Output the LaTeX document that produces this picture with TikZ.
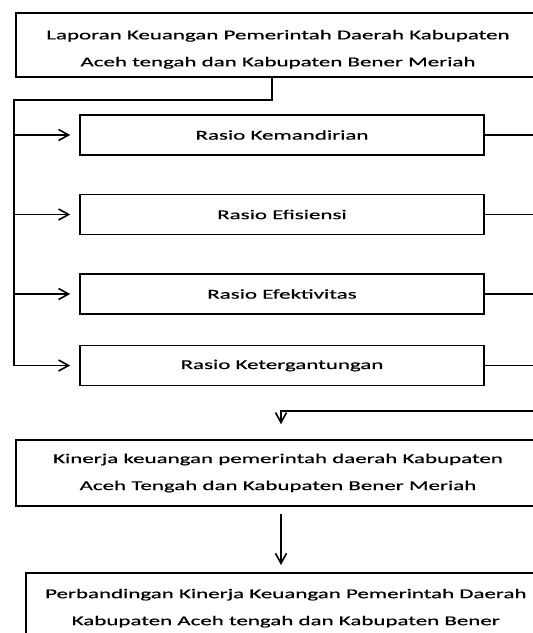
\documentclass[tikz,border=0pt]{standalone}
\usepackage{fontspec}
\setmainfont{Carlito}[FakeStretch=1.7,FakeBold=0.6]
\usepackage{tikz}
\usetikzlibrary{arrows.meta}

\begin{document}
\begin{tikzpicture}[x=1pt,y=-1pt,line width=1.6pt,
  >={Straight Barb[length=10pt,width=11pt,line width=1.6pt]},
  box/.style={draw,align=center,inner sep=0pt,font=\fontsize{13.5}{27}\selectfont},
  ratio/.style={box,minimum width=404pt,minimum height=40pt},
  wide/.style={box,minimum width=524pt}]
  \useasboundingbox (0,0) rectangle (533,633);
  \clip (0,0) rectangle (533,633);

  \node[wide,minimum height=64pt] (lap) at (278,45)
    {\rule{0pt}{18pt}Laporan Keuangan Pemerintah Daerah Kabupaten\\Aceh tengah dan Kabupaten Bener Meriah};

  \node[ratio] (kem) at (282,135) {Rasio Kemandirian};
  \node[ratio] (efi) at (282,214.5) {Rasio Efisiensi};
  \node[ratio] (efe) at (282,294) {Rasio Efektivitas};
  \node[ratio] (ket) at (282,365.5) {Rasio Ketergantungan};

  \node[wide,minimum height=66pt] (kin) at (278,473)
    {Kinerja keuangan pemerintah daerah Kabupaten\\Aceh Tengah dan Kabupaten Bener Meriah};

  \node[box,anchor=north west,minimum width=520pt,inner ysep=16pt] (per) at (25,572)
    {Perbandingan Kinerja Keuangan Pemerintah Daerah\\Kabupaten Aceh tengah dan Kabupaten Bener};

  % bus on the left
  \coordinate (tap) at (272,100);
  \coordinate (bus1) at (14,100);
  \coordinate (bus2) at (14,366);
  \draw (tap |- lap.south) -- (tap) -- (bus1) -- (bus2);
  \foreach \r in {kem,efi,efe,ket}
    \draw[->] (bus1 |- \r.west) -- ([xshift=-9pt]\r.west);

  % lines on the right
  \foreach \r in {kem,efi,efe,ket}
    \draw (\r.east) -- ++(60,0);
  \coordinate (join) at (281,411);
  \coordinate (edge) at (545,411);
  \draw[->] (edge) -- (join) -- ([yshift=15pt]join |- kin.north);
  \draw[->] ([yshift=-7pt]join |- kin.south) -- ([yshift=7pt]join |- per.north);
\end{tikzpicture}
\end{document}
